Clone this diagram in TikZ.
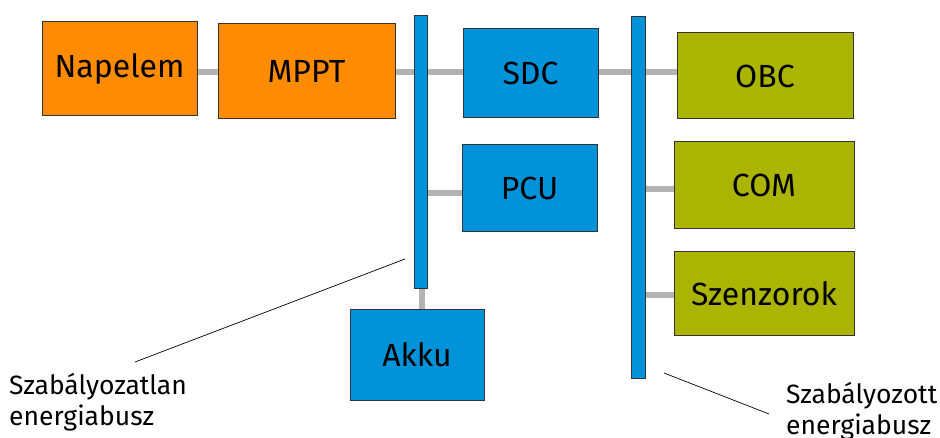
\documentclass[tikz,border=0pt]{standalone}
\usepackage{fontspec}
\setmainfont{Fira Sans}
\usetikzlibrary{backgrounds}
\definecolor{solar}{HTML}{FF8C00}
\definecolor{busblue}{HTML}{0093DA}
\definecolor{olive}{HTML}{ABB400}
\definecolor{wire}{HTML}{B3B3B3}
\definecolor{edge}{HTML}{333333}
\tikzset{
  blk/.style={draw=edge, line width=1pt, inner sep=0pt, font=\fontsize{32}{38}\selectfont},
  orangebox/.style={blk, fill=solar},
  bluebox/.style={blk, fill=busblue},
  olivebox/.style={blk, fill=olive},
  busbar/.style={draw=edge, line width=1pt, fill=busblue, inner sep=0pt},
  conn/.style={draw=wire, line width=6pt},
  leader/.style={draw=black, line width=0.7pt},
  note/.style={align=left, anchor=west, inner sep=0pt, font=\fontsize{26.5}{31}\selectfont}
}
\begin{document}
\begin{tikzpicture}[x=1pt, y=-1pt]
\useasboundingbox (0,0) rectangle (940,438);

% boxes and bus bars
\node[orangebox, minimum width=155pt, minimum height=94pt] (nap) at (119.5,69) {Napelem};
\node[orangebox, minimum width=177pt, minimum height=95pt] (mppt) at (306.5,71.5) {MPPT};
\node[busbar, minimum width=13pt, minimum height=273pt] (ubus) at (420.5,152.5) {};
\node[bluebox, minimum width=135pt, minimum height=89pt] (sdc) at (530.5,73.5) {SDC};
\node[bluebox, minimum width=135pt, minimum height=87pt] (pcu) at (529.5,188.5) {PCU};
\node[bluebox, minimum width=134pt, minimum height=90pt] (akku) at (417,355) {Akku};
\node[busbar, minimum width=14pt, minimum height=361pt] (rbus) at (638,197.5) {};
\node[olivebox, minimum width=176pt, minimum height=86pt] (obc) at (765,76) {OBC};
\node[olivebox, minimum width=180pt, minimum height=87pt] (com) at (764,185.5) {COM};
\node[olivebox, minimum width=180pt, minimum height=84pt] (szen) at (764,294) {Szenzorok};

% connector rows
\coordinate (row1) at (0,72);
\coordinate (rowpcu) at (0,193);
\coordinate (rowcom) at (0,189);
\coordinate (rowszen) at (0,295);
\coordinate (colakku) at (422,0);

% connectors, kept behind the boxes
\begin{scope}[on background layer]
\draw[conn] (nap.east |- row1) -- (mppt.west |- row1);
\draw[conn] (mppt.east |- row1) -- (ubus.west |- row1);
\draw[conn] (ubus.east |- row1) -- (sdc.west |- row1);
\draw[conn] (sdc.east |- row1) -- (rbus.west |- row1);
\draw[conn] (rbus.east |- row1) -- (obc.west |- row1);
\draw[conn] (ubus.east |- rowpcu) -- (pcu.west |- rowpcu);
\draw[conn] (colakku |- ubus.south) -- (colakku |- akku.north);
\draw[conn] (rbus.east |- rowcom) -- (com.west |- rowcom);
\draw[conn] (rbus.east |- rowszen) -- (szen.west |- rowszen);
\end{scope}

% labels with leader lines
\coordinate (uptr) at (405,259);
\coordinate (uend) at (135,362);
\coordinate (rptr) at (664,373);
\coordinate (rend) at (769,414);
\draw[leader] (uptr) -- (uend);
\draw[leader] (rptr) -- (rend);
\node[note] (ulabel) at (9,402.5) {Szabályozatlan\\energiabusz};
\node[note] (rlabel) at (786,411) {Szabályozott\\energiabusz};
\end{tikzpicture}
\end{document}
